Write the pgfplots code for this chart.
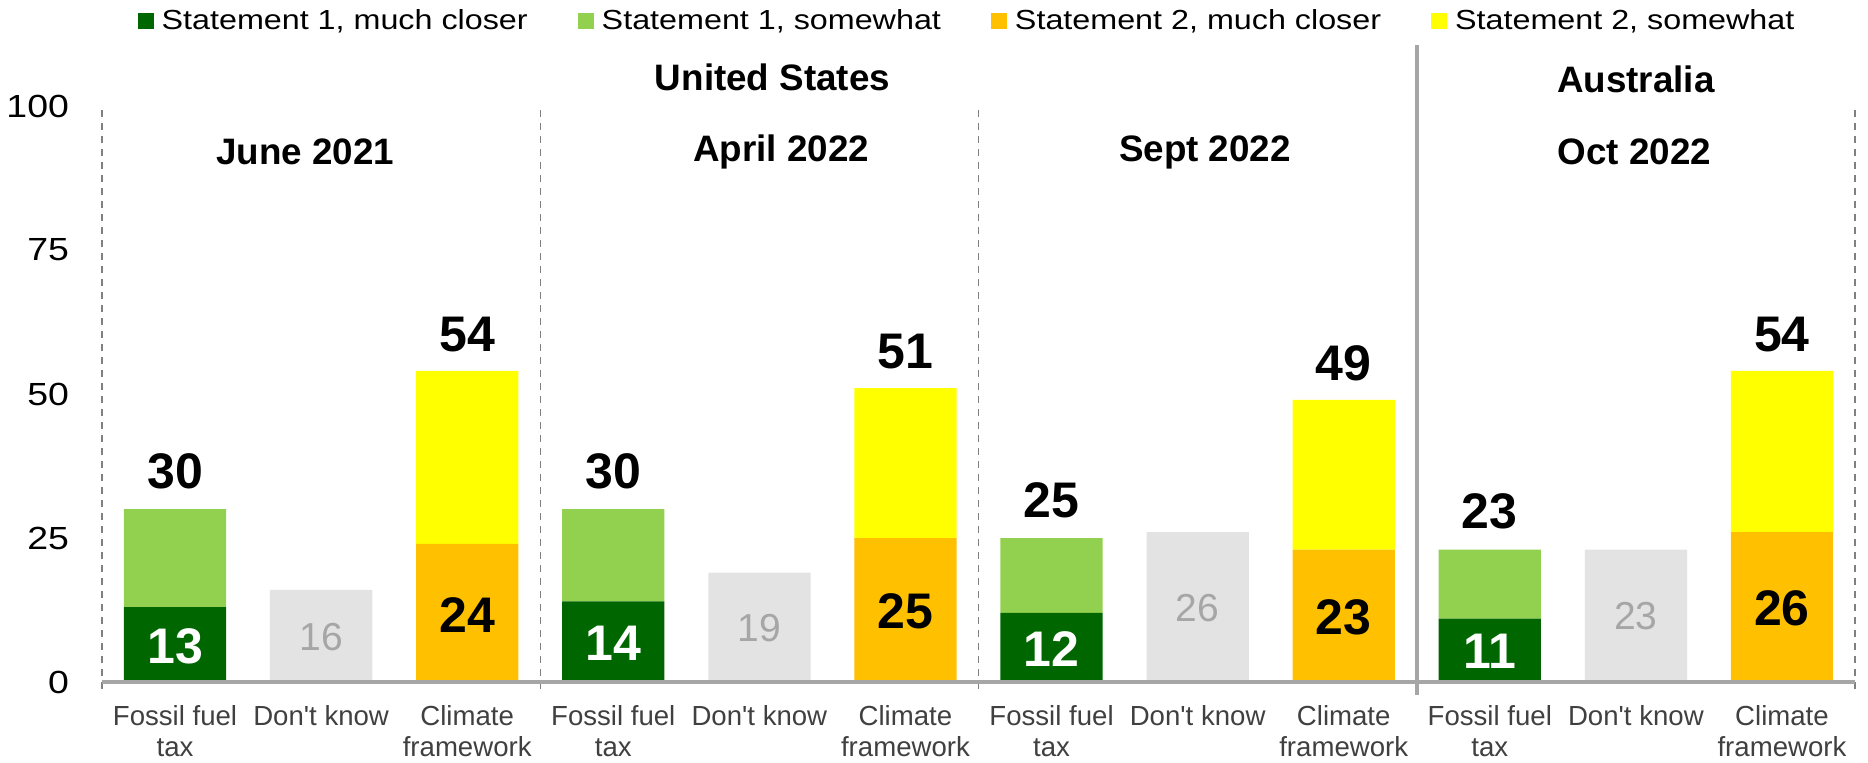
\documentclass[border=0pt]{standalone}
\usepackage{fontspec}
\setmainfont{Liberation Sans}
\newfontfamily\sfx{Liberation Sans}[FakeStretch=1.17]
\newfontfamily\catfont{Liberation Sans}
\usepackage{pgfplots}
\pgfplotsset{compat=1.18}
\definecolor{dkgreen}{HTML}{006600}
\definecolor{ltgreen}{HTML}{92D050}
\definecolor{orng}{HTML}{FFC000}
\definecolor{yel}{HTML}{FFFF00}
\definecolor{dkbar}{HTML}{E3E3E3}
\definecolor{dklab}{HTML}{A6A6A6}
\definecolor{axgray}{HTML}{A6A6A6}
\definecolor{sepgray}{HTML}{808080}
\definecolor{catgray}{HTML}{404040}
\begin{document}
\begin{tikzpicture}
\begin{axis}[
  set layers,
  every axis plot/.append style={on layer=axis background},
  scale only axis, width=876.5pt, height=288pt,
  ybar stacked, bar width=0.7,
  xmin=-0.5, xmax=11.5, ymin=0, ymax=100,
  clip=false,
  axis line style={draw=none},
  tick style={draw=none},
  xtick={0,...,11},
  xticklabels={{Fossil fuel\\tax},{Don't know},{Climate\\framework},{Fossil fuel\\tax},{Don't know},{Climate\\framework},{Fossil fuel\\tax},{Don't know},{Climate\\framework},{Fossil fuel\\tax},{Don't know},{Climate\\framework}},
  xticklabel style={align=center, text=catgray, font=\catfont\fontsize{13.8}{15.8}\selectfont, yshift=-8pt},
  ytick={0,25,50,75,100},
  yticklabel style={font=\sfx\fontsize{16}{18}\selectfont, xshift=-13pt},
  /pgf/number format/assume math mode=true,
  legend style={at={(0.494,1.1476)}, anchor=center, draw=none, legend columns=-1,
    font=\sfx\fontsize{13.8}{16}\selectfont, nodes={inner sep=2pt},
    /tikz/every odd column/.append style={column sep=2pt},
    /tikz/every even column/.append style={column sep=23pt}},
  legend image code/.code={\fill[#1] (0pt,-4pt) rectangle (8pt,4pt);},
]
\addplot[fill=dkgreen, draw=none] coordinates {(0,13)(1,0)(2,0)(3,14)(4,0)(5,0)(6,12)(7,0)(8,0)(9,11)(10,0)(11,0)};
\addplot[fill=ltgreen, draw=none] coordinates {(0,17)(1,0)(2,0)(3,16)(4,0)(5,0)(6,13)(7,0)(8,0)(9,12)(10,0)(11,0)};
\addplot[fill=orng, draw=none] coordinates {(0,0)(1,0)(2,24)(3,0)(4,0)(5,25)(6,0)(7,0)(8,23)(9,0)(10,0)(11,26)};
\addplot[fill=yel, draw=none] coordinates {(0,0)(1,0)(2,30)(3,0)(4,0)(5,26)(6,0)(7,0)(8,26)(9,0)(10,0)(11,28)};
\addplot[fill=dkbar, draw=none, forget plot] coordinates {(0,0)(1,16)(2,0)(3,0)(4,19)(5,0)(6,0)(7,26)(8,0)(9,0)(10,23)(11,0)};
\legend{{Statement 1, much closer}, {Statement 1, somewhat}, {Statement 2, much closer}, {Statement 2, somewhat}}
\coordinate (O) at (rel axis cs:0,0);
% axis & separators
\draw[axgray, line width=1.6pt] (axis cs:-0.5,0) -- (axis cs:11.5,0);
\pgfplotsinvokeforeach{-0.5,2.5,5.5,11.5}{
  \draw[sepgray, line width=0.75pt, dash pattern=on 3.5pt off 3pt] (axis cs:#1,-1.2) -- (axis cs:#1,99.8);
}
\draw[axgray, line width=2pt] (axis cs:8.5,-2.2) -- (axis cs:8.5,110.6);
% titles
\tikzset{ttl/.style={font=\bfseries\fontsize{18.4}{20}\selectfont}}
\node[ttl] at (axis cs:4.09,105) {United States};
\node[ttl] at (axis cs:10,104.7) {Australia};
\node[ttl] at (axis cs:0.89,92) {June 2021};
\node[ttl] at (axis cs:4.15,92) {April 2022};
\node[ttl] at (axis cs:7.05,92) {Sept 2022};
\node[ttl] at (axis cs:9.99,92) {Oct 2022};
% labels
\tikzset{tot/.style={font=\bfseries\fontsize{25}{27}\selectfont, text=black},
         inw/.style={font=\bfseries\fontsize{25}{27}\selectfont, text=white},
         dk/.style={font=\fontsize{19.5}{22}\selectfont, text=dklab}}
\node[tot] at (axis cs:0,36.5) {30};
\node[tot] at (axis cs:2,60.3) {54};
\node[tot] at (axis cs:3,36.5) {30};
\node[tot] at (axis cs:5,57.4) {51};
\node[tot] at (axis cs:6,31.5) {25};
\node[tot] at (axis cs:8,55.4) {49};
\node[tot] at (axis cs:9,29.6) {23};
\node[tot] at (axis cs:11,60.3) {54};
\node[inw] at (axis cs:0,6.25) {13};
\node[inw] at (axis cs:3,6.75) {14};
\node[inw] at (axis cs:6,5.75) {12};
\node[inw] at (axis cs:9,5.3) {11};
\node[tot] at (axis cs:2,11.7) {24};
\node[tot] at (axis cs:5,12.2) {25};
\node[tot] at (axis cs:8,11.2) {23};
\node[tot] at (axis cs:11,12.75) {26};
\node[dk] at (axis cs:1,7.8) {16};
\node[dk] at (axis cs:4,9.3) {19};
\node[dk] at (axis cs:7,12.8) {26};
\node[dk] at (axis cs:10,11.4) {23};
\end{axis}
\pgfresetboundingbox
\path[use as bounding box] ([shift={(-51pt,-40pt)}]O) rectangle ([shift={(883pt,341pt)}]O);
\end{tikzpicture}
\end{document}
